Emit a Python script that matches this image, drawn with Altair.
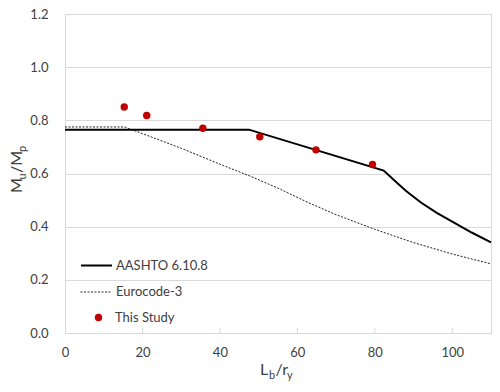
import altair as alt
import pandas as pd

FONT = "Lato"
TXT = "#404040"
GRID = "#d9d9d9"

# AASHTO 6.10.8 curve
aashto_x = [0, 47.5, 82.3, 85, 88, 92, 96, 100, 105, 110]
aashto_y = [0.765, 0.765, 0.611, 0.575, 0.535, 0.49, 0.452, 0.419, 0.378, 0.341]
# Eurocode-3 curve
euro_x = [0, 15.4, 20, 30, 40, 48, 55, 62, 70, 80, 90, 100, 110]
euro_y = [0.775, 0.775, 0.75, 0.695, 0.635, 0.589, 0.545, 0.496, 0.445, 0.39, 0.34, 0.297, 0.26]
# This Study points
study_x = [15.3, 21.1, 35.6, 50.3, 64.8, 79.4]
study_y = [0.85, 0.818, 0.77, 0.738, 0.689, 0.634]

x_ticks = [0, 20, 40, 60, 80, 100]
y_ticks = [0.0, 0.2, 0.4, 0.6, 0.8, 1.0, 1.2]
inner_ticks = [20, 40, 60, 80, 100]

W, H = 426, 319

df_a = pd.DataFrame({"x": aashto_x, "y": aashto_y, "a": "AASHTO 6.10.8"})
df_e = pd.DataFrame({"x": euro_x, "y": euro_y, "b": "Eurocode-3"})
df_s = pd.DataFrame({"x": study_x, "y": study_y, "c": "This Study"})
df_t = pd.DataFrame({"xt": inner_ticks})

xs = alt.Scale(domain=[0, 110], nice=False)
ys = alt.Scale(domain=[0, 1.2], nice=False)

xax = alt.Axis(values=x_ticks, title=None, grid=False, ticks=False, labelPadding=13,
               labelFlush=False, domainColor=GRID)
yax = alt.Axis(values=y_ticks, format=".1f", title=None, grid=True, gridColor=GRID,
               ticks=False, labelPadding=17, domainColor=GRID)

base_x = alt.X("x:Q", scale=xs, axis=xax)
base_y = alt.Y("y:Q", scale=ys, axis=yax)

aashto = alt.Chart(df_a).mark_line(color="black", strokeWidth=2).encode(
    x=base_x, y=base_y,
    color=alt.Color("a:N", scale=alt.Scale(domain=["AASHTO 6.10.8"], range=["black"]),
                    legend=alt.Legend(title=None, orient="none", legendX=15, legendY=235,
                                      symbolType="stroke", symbolSize=961, symbolStrokeWidth=2,
                                      labelOffset=3, padding=0)),
)

euro = alt.Chart(df_e).mark_line(color="#222222", strokeWidth=1).encode(
    x=base_x, y=base_y,
    strokeDash=alt.StrokeDash("b:N", scale=alt.Scale(domain=["Eurocode-3"], range=[[2, 1.5]]),
                              legend=alt.Legend(title=None, orient="none", legendX=15, legendY=262,
                                                symbolType="stroke", symbolSize=961,
                                                symbolStrokeWidth=1, symbolStrokeColor="#222222",
                                                labelOffset=4, padding=0)),
)

study = alt.Chart(df_s).mark_point(filled=True, size=55, opacity=1).encode(
    x=base_x, y=base_y,
    fill=alt.Fill("c:N", scale=alt.Scale(domain=["This Study"], range=["#c00000"]),
                  legend=alt.Legend(title=None, orient="none", legendX=27, legendY=297,
                                    symbolType="circle", symbolSize=55, symbolStrokeWidth=0,
                                    symbolOpacity=1, labelOffset=10, padding=0)),
)

ticks = alt.Chart(df_t).mark_rule(color=GRID).encode(
    x=alt.X("xt:Q", scale=xs), y=alt.value(H - 5), y2=alt.value(H)
)


def piece(txt, x, y, size, angle=0):
    return alt.Chart(alt.InlineData(values=[{"k": 0}])).mark_text(
        text=txt, fontSize=size, font=FONT, color=TXT, align="left",
        baseline="alphabetic", angle=angle
    ).encode(x=alt.value(x), y=alt.value(y))


# y title: M_u/M_p (rotated)
yt = [
    piece("M", -43, 179, 16, 270),
    piece("u", -39, 165.5, 11, 270),
    piece("/M", -43, 159, 16, 270),
    piece("p", -39, 138, 11, 270),
]
# x title: L_b/r_y
xt = [
    piece("L", 195, 361, 16),
    piece("b", 204, 364.5, 11),
    piece("/r", 210.5, 361, 16),
    piece("y", 222, 364.5, 11),
]

chart = alt.layer(ticks, euro, aashto, study, *yt, *xt).resolve_scale(
    color="independent", strokeDash="independent", fill="independent"
).properties(
    width=W, height=H,
    autosize=alt.AutoSizeParams(type="none"),
    padding={"left": 57, "top": 6, "right": 1, "bottom": 50},
).configure_view(stroke=GRID).configure_axis(
    labelFont=FONT, labelFontSize=13, labelColor=TXT
).configure_legend(
    labelFont=FONT, labelFontSize=13, labelColor=TXT
)

chart.save("out.html", embed_options={"renderer": "svg", "actions": False})
